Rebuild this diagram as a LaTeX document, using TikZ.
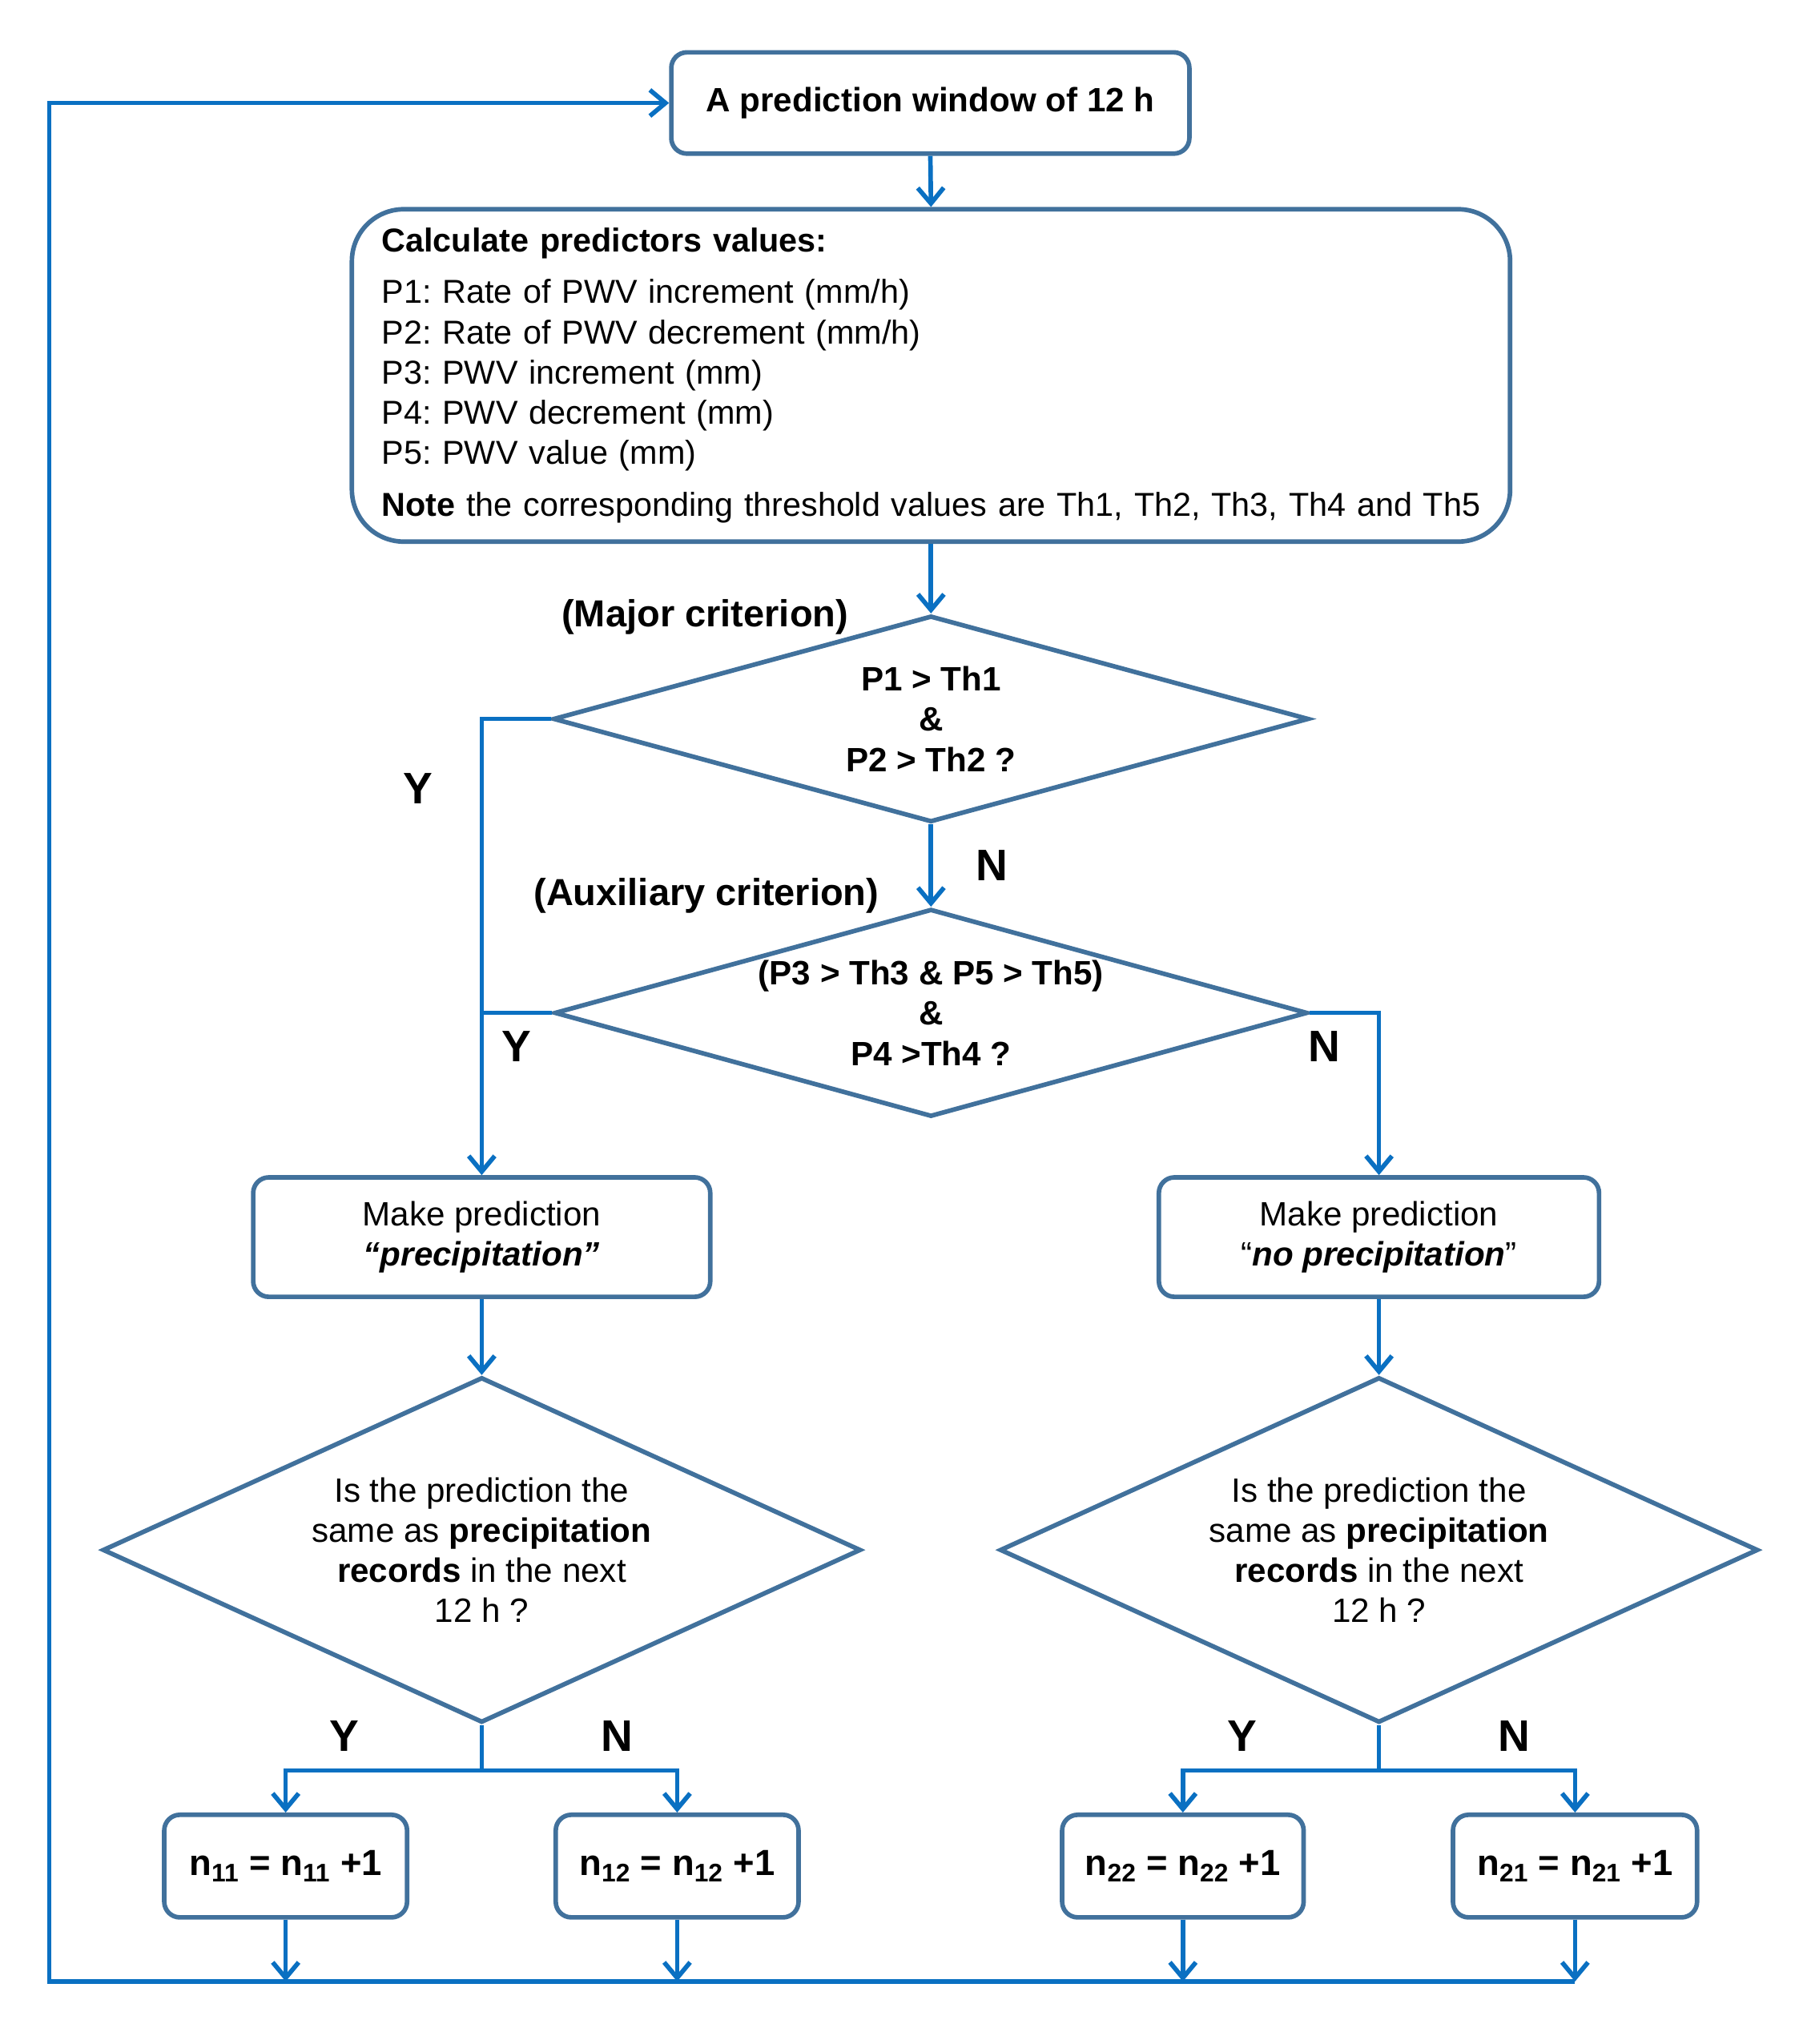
\documentclass[tikz,border=0pt]{standalone}
\usepackage{fontspec}
\setmainfont{Liberation Sans}
\usetikzlibrary{arrows.meta,shapes.geometric,calc}
\definecolor{conncol}{HTML}{0A70C2}
\definecolor{boxcol}{HTML}{41719C}
\frenchspacing
\begin{document}
\begin{tikzpicture}[x=1pt,y=-1.004pt,
  shapebox/.style={draw=boxcol,line width=3.5pt,rounded corners=12pt,inner sep=0pt,align=center,
     font=\fontsize{26}{31}\selectfont},
  decision/.style={draw=boxcol,line width=3.5pt,diamond,inner sep=0pt,align=center,
     font=\fontsize{26}{31}\selectfont},
  conn/.style={draw=conncol,line width=3.5pt,-{Straight Barb[length=12pt,width=20pt]}},
  plainconn/.style={draw=conncol,line width=3.5pt},
  yn/.style={font=\fontsize{34}{40}\selectfont\bfseries,inner sep=0pt},
  crit/.style={font=\fontsize{29}{34}\selectfont\bfseries,inner sep=0pt}]
\useasboundingbox (0,0) rectangle (1385,1568);
\fill[white] (0,0) rectangle (1385,1568);

% nodes
\node[shapebox,minimum width=399pt,minimum height=78pt,font=\fontsize{26}{31}\selectfont\bfseries] (top) at (716.5,79) {A prediction window of 12 h};
\node[shapebox,rounded corners=40pt,minimum width=892pt,minimum height=256pt,align=left,text width=846pt,
      font=\fontsize{25.5}{31}\selectfont] (calc) at (717,288)
 {\frenchspacing\textbf{Calculate predictors values:}\\[9pt]
  P1: Rate of PWV increment (mm/h)\\
  P2: Rate of PWV decrement (mm/h)\\
  P3: PWV increment (mm)\\
  P4: PWV decrement (mm)\\
  P5: PWV value (mm)\\[9pt]
  \mbox{\textbf{Note} the corresponding threshold values are Th1, Th2, Th3, Th4 and Th5}};
\node[decision,minimum width=582pt,minimum height=159pt,aspect=3.66,font=\fontsize{26}{31}\selectfont\bfseries] (d1) at (717,551.5)
 {P1 > Th1\\ \&\\ P2 > Th2 ?};
\node[decision,minimum width=580pt,minimum height=160pt,aspect=3.62,font=\fontsize{26}{31}\selectfont\bfseries] (d2) at (717,777)
 {(P3 > Th3 \& P5 > Th5)\\ \&\\ P4 >Th4 ?};
\node[shapebox,minimum width=352pt,minimum height=92pt] (pL) at (371,949)
 {Make prediction\\ \textbf{\textit{“precipitation”}}};
\node[shapebox,minimum width=339pt,minimum height=92pt] (pR) at (1062,949)
 {Make prediction\\ “\textbf{\textit{no precipitation}}”};
\node[decision,minimum width=584pt,minimum height=266pt,aspect=2.2] (d3) at (371,1189)
 {Is the prediction the\\ same as \textbf{precipitation}\\ \textbf{records} in the next\\ 12 h ?};
\node[decision,minimum width=584pt,minimum height=266pt,aspect=2.2] (d4) at (1062,1189)
 {Is the prediction the\\ same as \textbf{precipitation}\\ \textbf{records} in the next\\ 12 h ?};
\node[shapebox,minimum width=187pt,minimum height=79pt,font=\fontsize{28}{33}\selectfont\bfseries] (n11) at (220,1431.5) {n\textsubscript{11} = n\textsubscript{11} +1};
\node[shapebox,minimum width=187pt,minimum height=79pt,font=\fontsize{28}{33}\selectfont\bfseries] (n12) at (521.5,1431.5) {n\textsubscript{12} = n\textsubscript{12} +1};
\node[shapebox,minimum width=186pt,minimum height=79pt,font=\fontsize{28}{33}\selectfont\bfseries] (n22) at (911,1431.5) {n\textsubscript{22} = n\textsubscript{22} +1};
\node[shapebox,minimum width=188pt,minimum height=79pt,font=\fontsize{28}{33}\selectfont\bfseries] (n21) at (1213,1431.5) {n\textsubscript{21} = n\textsubscript{21} +1};

% labels
\node[crit] (lmaj) at (543,473) {(Major criterion)};
\node[crit] (laux) at (544,687) {(Auxiliary criterion)};
\node[yn] (y1) at (322,605) {Y};
\node[yn] (n1) at (764,664) {N};
\node[yn] (y2) at (398,803) {Y};
\node[yn] (n2) at (1020,803) {N};
\node[yn] (y3) at (265,1332) {Y};
\node[yn] (n3) at (475,1332) {N};
\node[yn] (y4) at (957,1332) {Y};
\node[yn] (n4) at (1166,1332) {N};

% coordinates
\coordinate (bl) at (38,1520);
\coordinate (j3) at ([yshift=-35pt]d3.south);
\coordinate (j4) at ([yshift=-35pt]d4.south);

% connectors
\draw[conn] (top.south) -- (calc.north);
\draw[conn] (calc.south) -- (d1.north);
\draw[conn] (d1.west) -| (pL.north);
\draw[conn] (d1.south) -- (d2.north);
\draw[plainconn] (d2.west) -- (d2.west -| pL.north);
\draw[conn] (d2.east) -| (pR.north);
\draw[conn] (pL.south) -- (d3.north);
\draw[conn] (pR.south) -- (d4.north);
\draw[plainconn] (d3.south) -- (j3);
\draw[conn] (j3) -| (n11.north);
\draw[conn] (j3) -| (n12.north);
\draw[plainconn] (d4.south) -- (j4);
\draw[conn] (j4) -| (n22.north);
\draw[conn] (j4) -| (n21.north);
\draw[conn] (n11.south) -- (n11.south |- bl);
\draw[conn] (n12.south) -- (n12.south |- bl);
\draw[conn] (n22.south) -- (n22.south |- bl);
\draw[conn] (n21.south) -- (n21.south |- bl);
\draw[conn] (n21.south |- bl) -- (bl) |- (top.west);
\end{tikzpicture}
\end{document}
